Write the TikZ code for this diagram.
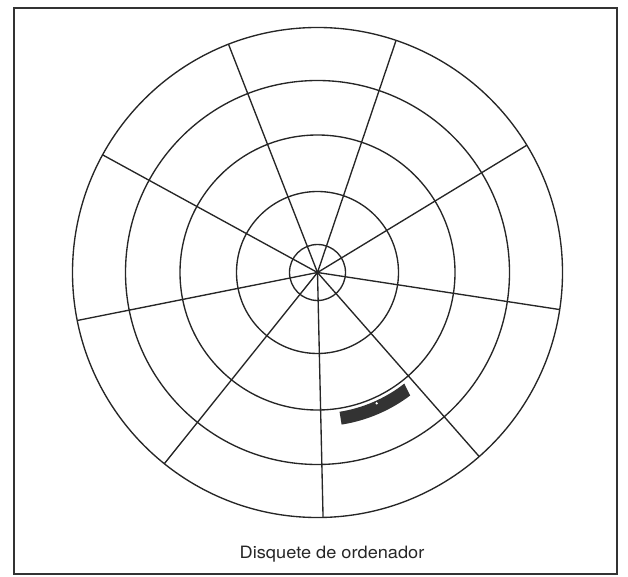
\documentclass[tikz,border=0pt]{standalone}
\usepackage{fontspec}
\setmainfont{TeX Gyre Heros}
\usetikzlibrary{calc}
\begin{document}
\begin{tikzpicture}[x=1pt,y=1pt,
  ring/.style={draw=black!85, line width=1.35pt},
  spoke/.style={draw=black!85, line width=1.35pt},
  framebox/.style={draw=black!80, line width=1.5pt}]
\useasboundingbox (0,0) rectangle (628,576);
\draw[framebox] (14,2) rectangle (617,568);
\coordinate (c) at (317.5,303.5);
\foreach \r in {245,192,137.5,81,28}
  \draw[ring] (c) circle[radius=\r pt];
\foreach \k in {0,...,8}
  \draw[spoke] (c) -- ++({31.3+40*\k}:245pt);
\coordinate (tl) at ($(c)+(-81:141pt)$);
\coordinate (br) at ($(c)+(-53:154pt)$);
\fill[black!80] (tl) arc[start angle=-81, end angle=-52, radius=141pt]
  -- (br) arc[start angle=-53, end angle=-81, radius=154pt] -- cycle;
\fill[white] (376.7,172.7) circle[radius=1.3pt];
\fill[black!85] (c) circle[radius=2.2pt];
\node[font=\fontsize{17}{20}\selectfont, text=black!85, anchor=base west, inner sep=0pt, xscale=1.07] (cap) at (239.5,17.7) {Disquete de ordenador};
\end{tikzpicture}
\end{document}
